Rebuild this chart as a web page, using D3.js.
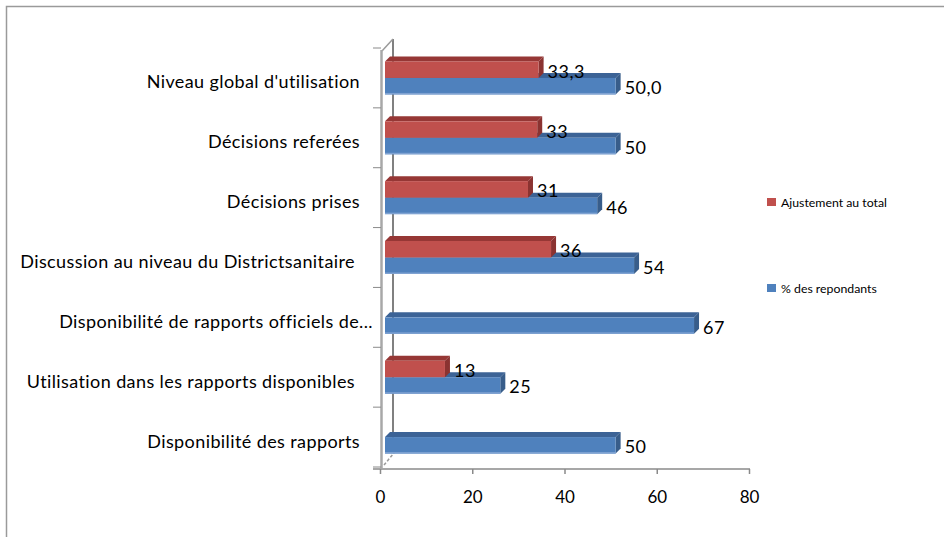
<!DOCTYPE html>
<html>
<head>
<meta charset="utf-8">
<script src="https://cdn.jsdelivr.net/npm/d3@7/dist/d3.min.js"></script>
<style>
  html, body { margin: 0; padding: 0; background: #fff; }
  svg { display: block; }
  text { font-family: Lato, "Open Sans", sans-serif; white-space: pre; }
</style>
</head>
<body>
<svg id="chart" width="944" height="537"></svg>
<script>
// Categories, listed top to bottom
const categories = [
  "Niveau global d'utilisation",
  "Décisions referées",
  "Décisions prises",
  "Discussion au niveau du Districtsanitaire ",
  "Disponibilité de rapports officiels de...",
  "Utilisation dans les rapports disponibles ",
  "Disponibilité des rapports"
];
// Series values (null = no bar)
const ajustement = [33.3, 33, 31, 36, null, 13, null];
const repondants = [50.0, 50, 46, 54, 67, 25, 50];
// Decimal places used in each category's value labels
const labelDecimals = [1, 0, 0, 0, 0, 0, 0];
const seriesNames = ["Ajustement au total", "% des repondants"];
const xTicks = [0, 20, 40, 60, 80];

const svg = d3.select("#chart");

// Chart frame
svg.append("rect")
  .attr("x", 6.5).attr("y", 6.5)
  .attr("width", 960).attr("height", 560)
  .attr("fill", "none").attr("stroke", "#9a9a9a").attr("stroke-width", 1.5);

const x = d3.scaleLinear().domain([0, 80]).range([380, 749]);
const y = d3.scaleBand().domain(categories).range([48, 467]).paddingInner(0).paddingOuter(0);

// 3D depth offset of the bars and walls
const bdx = 5, bdy = 5;
const barFrontShift = 5;
const barH = 16.5;

const fr = d3.formatLocale({ decimal: ",", thousands: " ", grouping: [3], currency: ["", ""] });
const fmt = d => fr.format("." + d + "f");

// Back wall line
svg.append("line")
  .attr("x1", 393).attr("x2", 393).attr("y1", 39).attr("y2", 453)
  .attr("stroke", "#808080").attr("stroke-width", 2);
// Top corner diagonal
svg.append("line")
  .attr("x1", 382).attr("y1", 51).attr("x2", 393).attr("y2", 39)
  .attr("stroke", "#9a9a9a").attr("stroke-width", 1.5);
// Bottom corner diagonal
svg.append("line")
  .attr("x1", 384).attr("y1", 465).attr("x2", 394).attr("y2", 453)
  .attr("stroke", "#9a9a9a").attr("stroke-width", 1.5).attr("stroke-dasharray", "3,2");

// Front wall line
svg.append("line")
  .attr("x1", 381.5).attr("x2", 381.5).attr("y1", 50).attr("y2", 468)
  .attr("stroke", "#a8a8a8").attr("stroke-width", 2.5);

// Category ticks on band boundaries
const boundaries = categories.map(c => y(c)).concat([y.range()[1]]);
svg.selectAll("line.ctick").data(boundaries).enter().append("line")
  .attr("class", "ctick")
  .attr("x1", 373).attr("x2", 381).attr("y1", d => d).attr("y2", d => d)
  .attr("stroke", "#8a8a8a").attr("stroke-width", 1);

// X axis
const xAxis = d3.axisBottom(x).tickValues(xTicks).tickSize(5).tickSizeOuter(0).tickFormat(d3.format("d"));
const gx = svg.append("g").attr("transform", "translate(0,469)").call(xAxis);
gx.select(".domain").attr("stroke", "#8a8a8a").attr("stroke-width", 1.5).attr("d", "M373,0H750");
gx.selectAll(".tick line").attr("stroke", "#8a8a8a").attr("stroke-width", 1.5);
gx.selectAll(".tick text").attr("font-size", 17).attr("fill", "#000").attr("dy", "0").attr("y", 34)
  .attr("font-family", "Lato, sans-serif");

// Category labels (a truncated label overflows slightly past the anchor)
svg.selectAll("text.cat").data(categories).enter().append("text")
  .attr("class", "cat")
  .attr("x", d => d.endsWith("...") ? 373 : 360)
  .attr("y", d => y(d) + y.bandwidth() / 2 + 10.5)
  .attr("text-anchor", "end")
  .attr("font-size", 18)
  .attr("letter-spacing", 0.4)
  .attr("fill", "#000")
  .text(d => d);

// Bars: each series slot within the band
const series = [
  { name: seriesNames[0], values: ajustement, front: "#c0504d", top: "#963735", side: "#8b3331", bottom: null, offset: -barH },
  { name: seriesNames[1], values: repondants, front: "#4f81bd", top: "#3c6396", side: "#385d8a", bottom: "#7fa2d2", offset: 0 }
];

function drawBar(g, s, v, i) {
  const cy = y(categories[i]) + y.bandwidth() / 2;
  const y0 = cy + s.offset, y1 = y0 + barH;
  const x0 = x(0) + barFrontShift, x1 = x(v) + barFrontShift;
  // top face
  g.append("path")
    .attr("d", `M${x0},${y0}L${x1},${y0}L${x1 + bdx},${y0 - bdy}L${x0 + bdx},${y0 - bdy}Z`)
    .attr("fill", s.top);
  // right side face
  g.append("path")
    .attr("d", `M${x1},${y0}L${x1 + bdx},${y0 - bdy}L${x1 + bdx},${y1 - bdy}L${x1},${y1}Z`)
    .attr("fill", s.side);
  // front face
  g.append("rect")
    .attr("x", x0).attr("y", y0).attr("width", x1 - x0).attr("height", barH)
    .attr("fill", s.front);
  if (s.bottom) {
    g.append("rect")
      .attr("x", x0).attr("y", y1 - 1.5).attr("width", x1 - x0).attr("height", 1.5)
      .attr("fill", s.bottom);
  }
  // value label
  g.append("text")
    .attr("x", x1 + 9)
    .attr("y", (y0 + y1) / 2 + 8)
    .attr("font-size", 18)
    .attr("letter-spacing", 0.5)
    .attr("fill", "#000")
    .text(fmt(labelDecimals[i])(v));
}

// Draw blue first so red (in front, above) overlaps its top face
categories.forEach((c, i) => {
  const g = svg.append("g");
  const sb = series[1], sr = series[0];
  if (sb.values[i] != null) drawBar(g, sb, sb.values[i], i);
  if (sr.values[i] != null) drawBar(g, sr, sr.values[i], i);
});

// Legend
const legendY = [198, 284];
series.forEach((s, k) => {
  svg.append("rect")
    .attr("x", 767).attr("y", legendY[k]).attr("width", 9).attr("height", 8)
    .attr("fill", s.front);
  svg.append("text")
    .attr("x", 781).attr("y", legendY[k] + 8.5)
    .attr("font-size", 12.3)
    .attr("fill", "#000")
    .text(s.name);
});
</script>
</body>
</html>
